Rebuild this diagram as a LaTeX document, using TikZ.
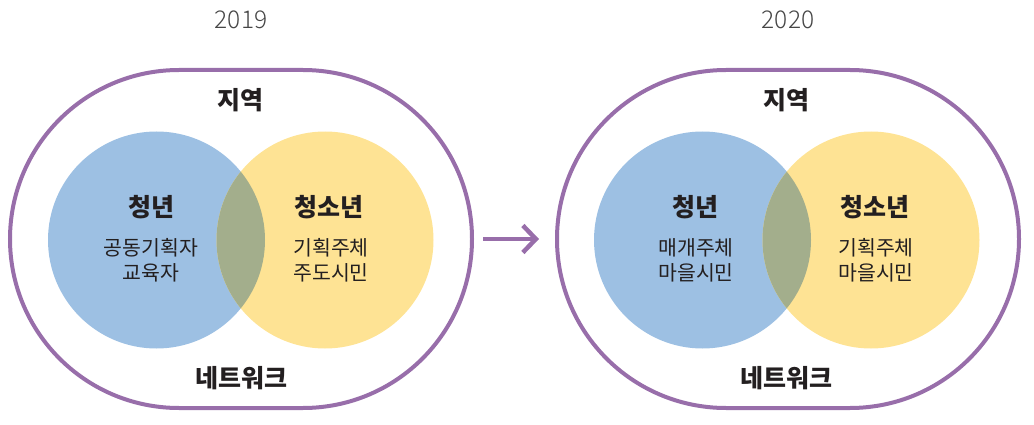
\documentclass[tikz,border=0pt]{standalone}
\usepackage{fontspec}
\newfontfamily\kr{Noto Sans CJK KR}
\newfontfamily\krl{Noto Sans CJK KR Light}
\usetikzlibrary{shapes.misc,arrows.meta}
\definecolor{purpleC}{RGB}{152,110,170}
\definecolor{blueC}{RGB}{157,192,227}
\definecolor{yellowC}{RGB}{254,227,148}
\definecolor{overC}{RGB}{163,174,140}
\definecolor{txtC}{RGB}{35,31,32}
\definecolor{yearC}{RGB}{70,70,70}
\tikzset{
  stad/.style={rounded rectangle, draw=purpleC, line width=4pt, minimum width=462pt, minimum height=338pt, inner sep=0pt},
  head/.style={font=\kr\bfseries\fontsize{25}{30}\selectfont, text=txtC, inner sep=0pt},
  sub/.style={font=\kr\fontsize{20.5}{25}\selectfont, text=txtC, align=center, inner sep=0pt},
  year/.style={font=\krl\fontsize{24.5}{28}\selectfont, text=yearC, inner sep=0pt},
  conn/.style={draw=purpleC, line width=4.5pt, -{Straight Barb[length=13pt,width=27pt,line width=4.5pt]}}
}
\begin{document}
\begin{tikzpicture}[x=1pt,y=1pt]
\useasboundingbox (0,0) rectangle (1034,424);
% ---------- 2019 ----------
\node[stad] (L) at (241,185) {};
\fill[blueC] (156.5,184) circle[radius=108.5];
\fill[yellowC] (325,184) circle[radius=108.5];
\begin{scope}
  \clip (156.5,184) circle[radius=108.5];
  \fill[overC] (325,184) circle[radius=108.5];
\end{scope}
\node[year] (y1) at (241,404) {2019};
\node[head] (r1) at (240,324) {지역};
\node[head] (n1) at (241,46) {네트워크};
\node[head] (b1) at (151,217) {청년};
\node[sub] (bs1) at (151,163.5) {공동기획자\\교육자};
\node[head] (c1) at (329,217) {청소년};
\node[sub] (cs1) at (331,163.5) {기획주체\\주도시민};
% ---------- 2020 ----------
\node[stad] (R) at (788,185) {};
\fill[blueC] (702.5,184) circle[radius=108.5];
\fill[yellowC] (871,184) circle[radius=108.5];
\begin{scope}
  \clip (702.5,184) circle[radius=108.5];
  \fill[overC] (871,184) circle[radius=108.5];
\end{scope}
\node[year] (y2) at (788,404) {2020};
\node[head] (r2) at (786,324) {지역};
\node[head] (n2) at (786,46) {네트워크};
\node[head] (b2) at (695,217) {청년};
\node[sub] (bs2) at (696,163.5) {매개주체\\마을시민};
\node[head] (c2) at (875,217) {청소년};
\node[sub] (cs2) at (876,163.5) {기획주체\\마을시민};
% ---------- arrow ----------
\draw[conn] ([xshift=9pt]L.east) -- ([xshift=-16pt]R.west);
\end{tikzpicture}
\end{document}
